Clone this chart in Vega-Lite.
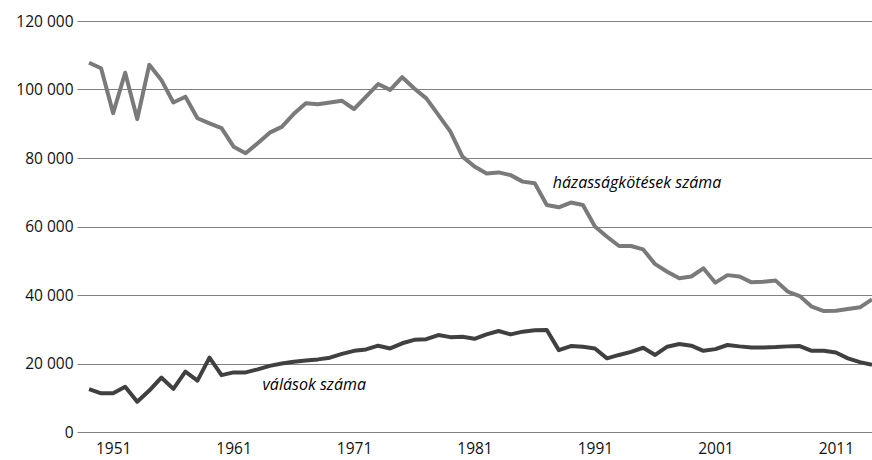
{
  "$schema": "https://vega.github.io/schema/vega-lite/v6.json",
  "autosize": "none",
  "width": 795,
  "height": 411,
  "padding": {"left": 77, "top": 21, "right": 0, "bottom": 28},
  "background": "white",
  "config": {"view": {"stroke": null}, "font": "Open Sans"},
  "datasets": {
    "marriages": [
      {"year":1949,"value":107800},{"year":1950,"value":106200},{"year":1951,"value":93100},{"year":1952,"value":104900},{"year":1953,"value":91400},{"year":1954,"value":107200},{"year":1955,"value":102800},{"year":1956,"value":96200},{"year":1957,"value":97900},{"year":1958,"value":91600},{"year":1959,"value":90100},{"year":1960,"value":88700},{"year":1961,"value":83300},{"year":1962,"value":81400},{"year":1963,"value":84300},{"year":1964,"value":87400},{"year":1965,"value":89100},{"year":1966,"value":92900},{"year":1967,"value":96000},{"year":1968,"value":95700},{"year":1969,"value":96200},{"year":1970,"value":96700},{"year":1971,"value":94300},{"year":1972,"value":97900},{"year":1973,"value":101600},{"year":1974,"value":99900},{"year":1975,"value":103600},{"year":1976,"value":100300},{"year":1977,"value":97400},{"year":1978,"value":92600},{"year":1979,"value":87700},{"year":1980,"value":80400},{"year":1981,"value":77500},{"year":1982,"value":75500},{"year":1983,"value":75800},{"year":1984,"value":75000},{"year":1985,"value":73100},{"year":1986,"value":72600},{"year":1987,"value":66300},{"year":1988,"value":65600},{"year":1989,"value":67000},{"year":1990,"value":66300},{"year":1991,"value":60000},{"year":1992,"value":57000},{"year":1993,"value":54300},{"year":1994,"value":54300},{"year":1995,"value":53300},{"year":1996,"value":49000},{"year":1997,"value":46800},{"year":1998,"value":44900},{"year":1999,"value":45400},{"year":2000,"value":47800},{"year":2001,"value":43600},{"year":2002,"value":45800},{"year":2003,"value":45400},{"year":2004,"value":43700},{"year":2005,"value":43900},{"year":2006,"value":44200},{"year":2007,"value":41000},{"year":2008,"value":39700},{"year":2009,"value":36600},{"year":2010,"value":35300},{"year":2011,"value":35400},{"year":2012,"value":35900},{"year":2013,"value":36400},{"year":2014,"value":38700}
    ],
    "divorces": [
      {"year":1949,"value":12500},{"year":1950,"value":11300},{"year":1951,"value":11300},{"year":1952,"value":13200},{"year":1953,"value":8850},{"year":1954,"value":12100},{"year":1955,"value":15900},{"year":1956,"value":12600},{"year":1957,"value":17600},{"year":1958,"value":15000},{"year":1959,"value":21700},{"year":1960,"value":16600},{"year":1961,"value":17400},{"year":1962,"value":17400},{"year":1963,"value":18300},{"year":1964,"value":19300},{"year":1965,"value":20000},{"year":1966,"value":20500},{"year":1967,"value":20900},{"year":1968,"value":21200},{"year":1969,"value":21700},{"year":1970,"value":22800},{"year":1971,"value":23700},{"year":1972,"value":24100},{"year":1973,"value":25200},{"year":1974,"value":24400},{"year":1975,"value":25900},{"year":1976,"value":26900},{"year":1977,"value":27100},{"year":1978,"value":28300},{"year":1979,"value":27700},{"year":1980,"value":27800},{"year":1981,"value":27200},{"year":1982,"value":28500},{"year":1983,"value":29500},{"year":1984,"value":28500},{"year":1985,"value":29300},{"year":1986,"value":29700},{"year":1987,"value":29800},{"year":1988,"value":23900},{"year":1989,"value":25100},{"year":1990,"value":24900},{"year":1991,"value":24400},{"year":1992,"value":21500},{"year":1993,"value":22500},{"year":1994,"value":23400},{"year":1995,"value":24600},{"year":1996,"value":22500},{"year":1997,"value":24900},{"year":1998,"value":25700},{"year":1999,"value":25200},{"year":2000,"value":23700},{"year":2001,"value":24200},{"year":2002,"value":25400},{"year":2003,"value":25000},{"year":2004,"value":24700},{"year":2005,"value":24700},{"year":2006,"value":24800},{"year":2007,"value":25000},{"year":2008,"value":25100},{"year":2009,"value":23700},{"year":2010,"value":23700},{"year":2011,"value":23200},{"year":2012,"value":21500},{"year":2013,"value":20400},{"year":2014,"value":19600}
    ],
    "labels": [
      {"year":1987.5,"value":72700,"text":"házasságkötések száma"},
      {"year":1963.4,"value":13600,"text":"válások száma"}
    ]
  },
  "encoding": {
    "x": {
      "field": "year", "type": "quantitative",
      "scale": {"domain": [1948, 2014], "nice": false, "zero": false},
      "axis": {"title": null, "values": [1951,1961,1971,1981,1991,2001,2011], "format": "d", "ticks": false, "domain": false, "grid": false, "labelFontSize": 15.5, "labelColor": "#111111", "labelPadding": 9, "labelFont": "Open Sans", "labelFlush": false}
    },
    "y": {
      "field": "value", "type": "quantitative",
      "scale": {"domain": [0, 120000], "nice": false},
      "axis": {"title": null, "values": [0,20000,40000,60000,80000,100000,120000], "labelExpr": "replace(format(datum.value, ','), ',', ' ')", "ticks": false, "domain": false, "grid": true, "gridColor": "#808080", "gridWidth": 1, "labelFontSize": 15.5, "labelColor": "#111111", "labelPadding": 4, "labelFont": "Open Sans"}
    }
  },
  "layer": [
    {"data": {"name": "marriages"}, "mark": {"type": "line", "stroke": "#7a7a7a", "strokeWidth": 4, "strokeJoin": "round"}},
    {"data": {"name": "divorces"}, "mark": {"type": "line", "stroke": "#404040", "strokeWidth": 4, "strokeJoin": "round"}},
    {"data": {"name": "labels"}, "mark": {"type": "text", "align": "left", "baseline": "middle", "fontStyle": "italic", "fontSize": 16, "font": "Open Sans", "color": "#000000"}, "encoding": {"text": {"field": "text"}}}
  ]
}
